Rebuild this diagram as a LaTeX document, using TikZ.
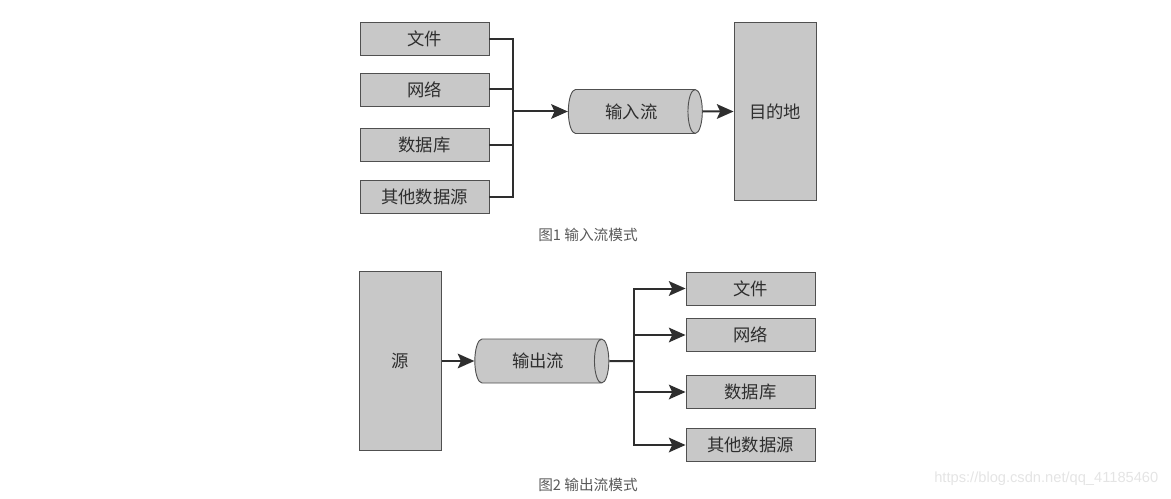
\documentclass[tikz,border=0pt]{standalone}
\usepackage{fontspec}
\setmainfont{Noto Sans CJK SC}
\newfontfamily\wmfont{Liberation Sans}
\usepackage{xcolor}
\definecolor{boxfill}{HTML}{C8C8C8}
\definecolor{boxline}{HTML}{505050}
\definecolor{ink}{HTML}{2E2E2E}
\definecolor{capink}{HTML}{5A5A5A}
\definecolor{wmark}{HTML}{E4E4E4}
\usetikzlibrary{arrows.meta,positioning,shapes.geometric}
\tikzset{
  >={Stealth[length=12.5pt,width=11pt,inset=2.5pt]},
  box/.style={draw=boxline,fill=boxfill,line width=0.7pt,minimum width=96.75pt,minimum height=24.75pt,inner sep=0pt,font=\fontsize{13}{13}\selectfont,text=ink},
  tallbox/.style={box,minimum width=61.5pt,minimum height=134pt},
  pipe/.style={cylinder,draw=boxline,line width=0.7pt,cylinder uses custom fill,cylinder body fill=boxfill,cylinder end fill=boxfill,shape aspect=0.9,minimum width=33pt,minimum height=100.5pt,inner sep=0pt,font=\fontsize{13}{13}\selectfont,text=ink},
  lab/.style={font=\fontsize{11}{11}\selectfont,text=capink},
  arr/.style={->,draw=ink,line width=1.5pt},
  wire/.style={draw=ink,line width=1.5pt},
}
\begin{document}
\begin{tikzpicture}[x=0.75pt,y=-0.75pt]
\useasboundingbox (0,0) rectangle (1171,499);
% input stream
\node[box] (inFile) at (424.5,39) {文件};
\node[box] (inNet) at (424.5,89.5) {网络};
\node[box] (inDb) at (424.5,145) {数据库};
\node[box] (inOther) at (424.5,197) {其他数据源};
\node[pipe] (inStream) at (631.5,111.5) {输入流};
\node[tallbox] (dest) at (775,111.5) {目的地};
\coordinate (inJoin) at (513,111.5);
\foreach \n in {inFile,inNet,inDb,inOther}{ \draw[wire] (\n.east) -| (inJoin); }
\draw[arr] (inJoin) -- (inStream.west);
\draw[arr] (inStream.east) -- (dest.west);
\node[lab] (cap1) at (588,235) {图1 输入流模式};
% output stream
\node[tallbox] (src) at (400.5,361) {源};
\node[pipe] (outStream) at (538,361) {输出流};
\node[box] (outFile) at (750.5,288.5) {文件};
\node[box] (outNet) at (750.5,335) {网络};
\node[box] (outDb) at (750.5,392) {数据库};
\node[box] (outOther) at (750.5,445) {其他数据源};
\coordinate (outJoin) at (634,361);
\draw[arr] (src.east) -- (outStream.west);
\draw[wire] (outStream.east) -- (outJoin);
\foreach \n in {outFile,outNet,outDb,outOther}{ \draw[arr] (outJoin) |- (\n.west); }
\node[lab] (cap2) at (588,485) {图2 输出流模式};
\node[font=\wmfont\fontsize{11}{11}\selectfont,text=wmark,anchor=east] (wm) at (1163,479) {https://blog.csdn.net/qq\_41185460};
\end{tikzpicture}
\end{document}
